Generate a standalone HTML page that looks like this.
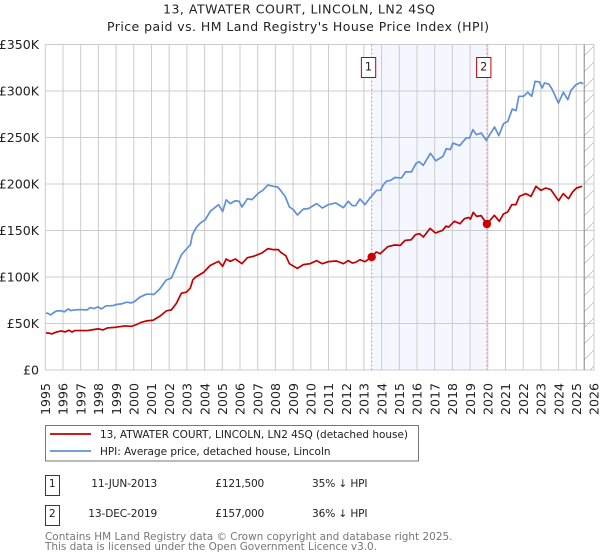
<!DOCTYPE html>
<html lang="en">
<head>
<meta charset="utf-8">
<title>13, Atwater Court, Lincoln - price paid vs HPI</title>
<style>
html,body{margin:0;padding:0;background:#fff;}
body{width:600px;height:560px;overflow:hidden;}
svg{display:block;font-family:"DejaVu Sans","Liberation Sans",sans-serif;}
</style>
</head>
<body>
<svg id="chart" width="600" height="560" viewBox="0 0 600 560">
  <defs>
    <pattern id="hatch" patternUnits="userSpaceOnUse" width="16" height="16">
      <line x1="0" y1="16" x2="16" y2="0" stroke="#c8c8c8" stroke-width="1"/>
    </pattern>
  </defs>
  <text x="163" y="13.3" textLength="272" lengthAdjust="spacing" font-size="12.5" fill="#222">13, ATWATER COURT, LINCOLN, LN2 4SQ</text>
  <text x="107" y="31" textLength="382" lengthAdjust="spacing" font-size="12.5" fill="#222">Price paid vs. HM Land Registry's House Price Index (HPI)</text>
  <g id="plot"></g>

  <g>
    <rect x="45.5" y="425.5" width="373" height="35.5" fill="#fff" stroke="#777" stroke-width="1"/>
    <line x1="50" y1="434" x2="91" y2="434" stroke="#c00000" stroke-width="1.8"/>
    <text x="100" y="438" textLength="308" lengthAdjust="spacing" font-size="10.5" fill="#222">13, ATWATER COURT, LINCOLN, LN2 4SQ (detached house)</text>
    <line x1="50" y1="451" x2="91" y2="451" stroke="#6090d5" stroke-width="1.8"/>
    <text x="100" y="455" textLength="230.5" lengthAdjust="spacing" font-size="10.5" fill="#222">HPI: Average price, detached house, Lincoln</text>
  </g>

  <g font-size="10.6" fill="#222">
    <rect x="45.5" y="475.5" width="14" height="20" fill="#fff" stroke="#c00000" stroke-width="1"/>
    <text x="52.3" y="487" text-anchor="middle">1</text>
    <text x="91.3" y="487" textLength="66" lengthAdjust="spacing">11-JUN-2013</text>
    <text x="215.3" y="487" textLength="49" lengthAdjust="spacing">£121,500</text>
    <text x="312" y="487" textLength="55.5" lengthAdjust="spacing">35% ↓ HPI</text>
    <rect x="45.5" y="505.5" width="14" height="20" fill="#fff" stroke="#c00000" stroke-width="1"/>
    <text x="52.3" y="517" text-anchor="middle">2</text>
    <text x="88.3" y="517" textLength="69" lengthAdjust="spacing">13-DEC-2019</text>
    <text x="215.3" y="517" textLength="49" lengthAdjust="spacing">£157,000</text>
    <text x="312" y="517" textLength="55.5" lengthAdjust="spacing">36% ↓ HPI</text>
  </g>

  <text x="45" y="540" textLength="407.5" lengthAdjust="spacing" font-size="10.45" fill="#777">Contains HM Land Registry data © Crown copyright and database right 2025.</text>
  <text x="45" y="550" textLength="332" lengthAdjust="spacing" font-size="10.45" fill="#777">This data is licensed under the Open Government Licence v3.0.</text>
</svg>
<script>
const yearTicks = [1995,1996,1997,1998,1999,2000,2001,2002,2003,2004,2005,2006,2007,2008,2009,2010,2011,2012,2013,2014,2015,2016,2017,2018,2019,2020,2021,2022,2023,2024,2025,2026];
const valueTicks = [0,50,100,150,200,250,300,350];
const valueTickLabels = ['£0','£50K','£100K','£150K','£200K','£250K','£300K','£350K'];

const hpiDates = [1995.04,1995.17,1995.30,1995.45,1995.64,1995.92,1996.07,1996.30,1996.43,1996.67,1997.0,1997.37,1997.52,1997.76,1997.97,1998.18,1998.42,1998.83,1999.0,1999.3,1999.59,1999.87,2000.04,2000.34,2000.71,2001.0,2001.13,2001.47,2001.84,2002.12,2002.41,2002.69,2002.97,2003.2,2003.31,2003.53,2003.76,2004.04,2004.32,2004.79,2005.02,2005.22,2005.45,2005.73,2005.95,2006.11,2006.42,2006.67,2007.05,2007.29,2007.57,2007.89,2008.12,2008.23,2008.55,2008.79,2009.02,2009.24,2009.58,2009.86,2010.33,2010.65,2010.99,2011.41,2011.84,2012.12,2012.35,2012.53,2012.78,2013.06,2013.34,2013.72,2013.94,2014.09,2014.28,2014.51,2014.75,2015.13,2015.35,2015.69,2015.94,2016.12,2016.35,2016.76,2017.06,2017.47,2017.65,2017.88,2018.03,2018.41,2018.78,2018.97,2019.16,2019.35,2019.63,2019.91,2020.38,2020.62,2020.89,2021.13,2021.38,2021.60,2021.75,2022.02,2022.26,2022.48,2022.67,2022.92,2023.07,2023.20,2023.44,2023.63,2023.99,2024.27,2024.52,2024.70,2024.98,2025.27,2025.38];
const hpiValues = [61.4,60.7,59.2,61.4,63.6,63.6,62.5,65.7,63.9,64.6,65.0,64.6,67.1,66.1,67.9,65.7,68.9,69.3,70.4,71.1,72.9,72.2,73.6,78.3,81.5,81.5,81.1,87.3,96.9,98.7,111.3,123.9,130,134.6,145.4,153.3,158,161.6,170.6,177.8,170.3,183,178.9,182,181.4,175.3,184.2,183.2,190.3,193.2,198.9,197.5,196.8,194.6,186.7,175.3,172.4,166.7,173.1,173.5,178.9,174.2,177.8,179.6,174.6,181.4,176.7,176.7,183.9,177.8,184.9,193.2,193.2,199,203,204,207,206.5,213,213,222,224,220,233,225,229.7,238,237,244,241.2,249.5,249.5,258.4,253,254.8,247,261.3,252,264.9,267.4,280.6,279,294.3,294.3,298.6,294.3,310.4,309.7,303.2,308.6,307.5,302,287,298.6,290.7,300.7,306.8,309.3,307.5];

const priceDates = [1995.04,1995.26,1995.36,1995.64,1995.92,1996.11,1996.34,1996.51,1996.67,1997.37,1997.71,1997.99,1998.27,1998.50,1999.0,1999.49,1999.87,2000.15,2000.43,2000.71,2001.09,2001.47,2001.84,2002.12,2002.41,2002.69,2002.97,2003.19,2003.34,2003.47,2003.94,2004.32,2004.79,2005.02,2005.22,2005.45,2005.73,2006.11,2006.42,2006.76,2007.23,2007.57,2007.89,2008.17,2008.30,2008.59,2008.79,2009.24,2009.58,2009.96,2010.33,2010.65,2010.99,2011.46,2011.84,2012.12,2012.35,2012.53,2012.78,2013.06,2013.44,2013.70,2013.92,2014.35,2014.73,2015.05,2015.33,2015.67,2015.91,2016.14,2016.36,2016.74,2017.04,2017.45,2017.64,2017.79,2018.11,2018.43,2018.68,2018.92,2019.02,2019.18,2019.37,2019.62,2019.95,2020.37,2020.65,2020.88,2021.12,2021.36,2021.59,2021.78,2022.15,2022.44,2022.72,2023.0,2023.28,2023.56,2024.0,2024.26,2024.56,2024.79,2025.01,2025.33];
const priceValues = [39.9,39.5,38.8,40.9,42,40.9,42.7,40.9,42.4,42.4,43.4,44.2,43.1,45.2,46,47.4,47,48.8,51.3,52.8,53.5,57.8,63.6,64.6,71.8,82.6,83.7,88,97,99.6,105,112.5,116.8,111.5,119.4,116.8,119.4,114.3,120.8,122.2,125.8,130.5,129.4,129.4,126.5,122.9,114.3,109.3,113.3,114.3,117.6,114.3,116.5,117.2,114.3,117.6,115,115.8,118.6,116.5,121.5,126.9,125,132.6,134.4,134,139.4,140,145.5,146.6,143,152.3,147.3,150.2,154.8,153.7,159.9,157.3,162.7,164,162.2,169.5,165.2,166,157,166.3,159.9,167.7,169.9,177.8,177.8,186.7,189.6,186.7,197.5,193.2,195.7,193.9,182,189.6,184.2,191.4,195.7,197.5];

const saleLabels = ['1','2'];
const saleDates = [2013.44,2019.95];
const saleValues = [121.5,157];

const latestDate = 2025.45;

const NS = 'http://www.w3.org/2000/svg';
const plot = document.getElementById('plot');
const xScale = year => 45.3 + (year - 1995) * 17.7;
const yScale = value => 370 - value * 0.93;
const xMin = xScale(1995), xMax = xScale(2026), yMin = yScale(0), yMax = yScale(350);

function make(tag, attrs, parent) {
  const el = document.createElementNS(NS, tag);
  for (const k in attrs) el.setAttribute(k, attrs[k]);
  (parent || plot).appendChild(el);
  return el;
}

// Shaded span between the two sales
const span = make('rect', {x: xScale(saleDates[0]), y: yMax, width: xScale(saleDates[1]) - xScale(saleDates[0]), height: yMin - yMax, fill: '#f4f7ff'});



// Hatched no-data region
const hatch = make('rect', {x: xScale(latestDate), y: yMax, width: xMax - xScale(latestDate), height: yMin - yMax, fill: 'url(#hatch)'});



// Vertical gridlines and year labels
yearTicks.forEach(year => {
  const x = xScale(year);
  const grid = make('line', {x1: x, x2: x, y1: yMax, y2: yMin, stroke: '#cccccc', 'stroke-width': 1});
  
  
  const label = make('text', {transform: 'translate(' + (x + 4.7) + ',415) rotate(-90)', 'font-size': 12.6, fill: '#222'});
  
  
  label.textContent = year;
});

// Horizontal gridlines and value labels
valueTicks.forEach((value, i) => {
  const y = yScale(value);
  const grid = make('line', {x1: xMin, x2: xMax, y1: y, y2: y, stroke: '#cccccc', 'stroke-width': 1});
  
  
  const label = make('text', {x: 39, y: y + 4.6, 'text-anchor': 'end', 'font-size': 12.6, fill: '#222'});
  
  
  label.textContent = valueTickLabels[i];
});

// Latest-data marker line
const latest = make('line', {x1: xScale(latestDate), x2: xScale(latestDate), y1: yMax, y2: yMin, stroke: '#999999', 'stroke-width': 1.2});



// Dashed sale lines
saleDates.forEach(date => {
  const x = xScale(date);
  const line = make('line', {x1: x, x2: x, y1: yMax, y2: yMin, stroke: '#ee8888', 'stroke-width': 1, 'stroke-dasharray': '2 2'});
  
  
});

// Series lines
function seriesPath(dates, values) {
  return dates.map((d, i) => (i ? 'L' : 'M') + xScale(d).toFixed(2) + ' ' + yScale(values[i]).toFixed(2)).join(' ');
}
const hpiLine = make('path', {d: seriesPath(hpiDates, hpiValues), fill: 'none', stroke: '#6090d5', 'stroke-width': 1.7, 'stroke-linejoin': 'round'});


const priceLine = make('path', {d: seriesPath(priceDates, priceValues), fill: 'none', stroke: '#c00000', 'stroke-width': 1.7, 'stroke-linejoin': 'round'});



// Sale points and numbered badges
saleDates.forEach((date, i) => {
  const x = xScale(date);
  const dot = make('circle', {cx: x, cy: yScale(saleValues[i]), r: 4.2, fill: '#cc0000'});
  
  
  const box = make('rect', {x: x - 10.3, y: 57.5, width: 14.3, height: 20, fill: '#fff', stroke: '#c00000', 'stroke-width': 1});
  
  
  const label = make('text', {x: x - 3.2, y: 70.5, 'text-anchor': 'middle', 'font-size': 11.2, fill: '#222'});
  
  
  label.textContent = saleLabels[i];
});
</script>
</body>
</html>
